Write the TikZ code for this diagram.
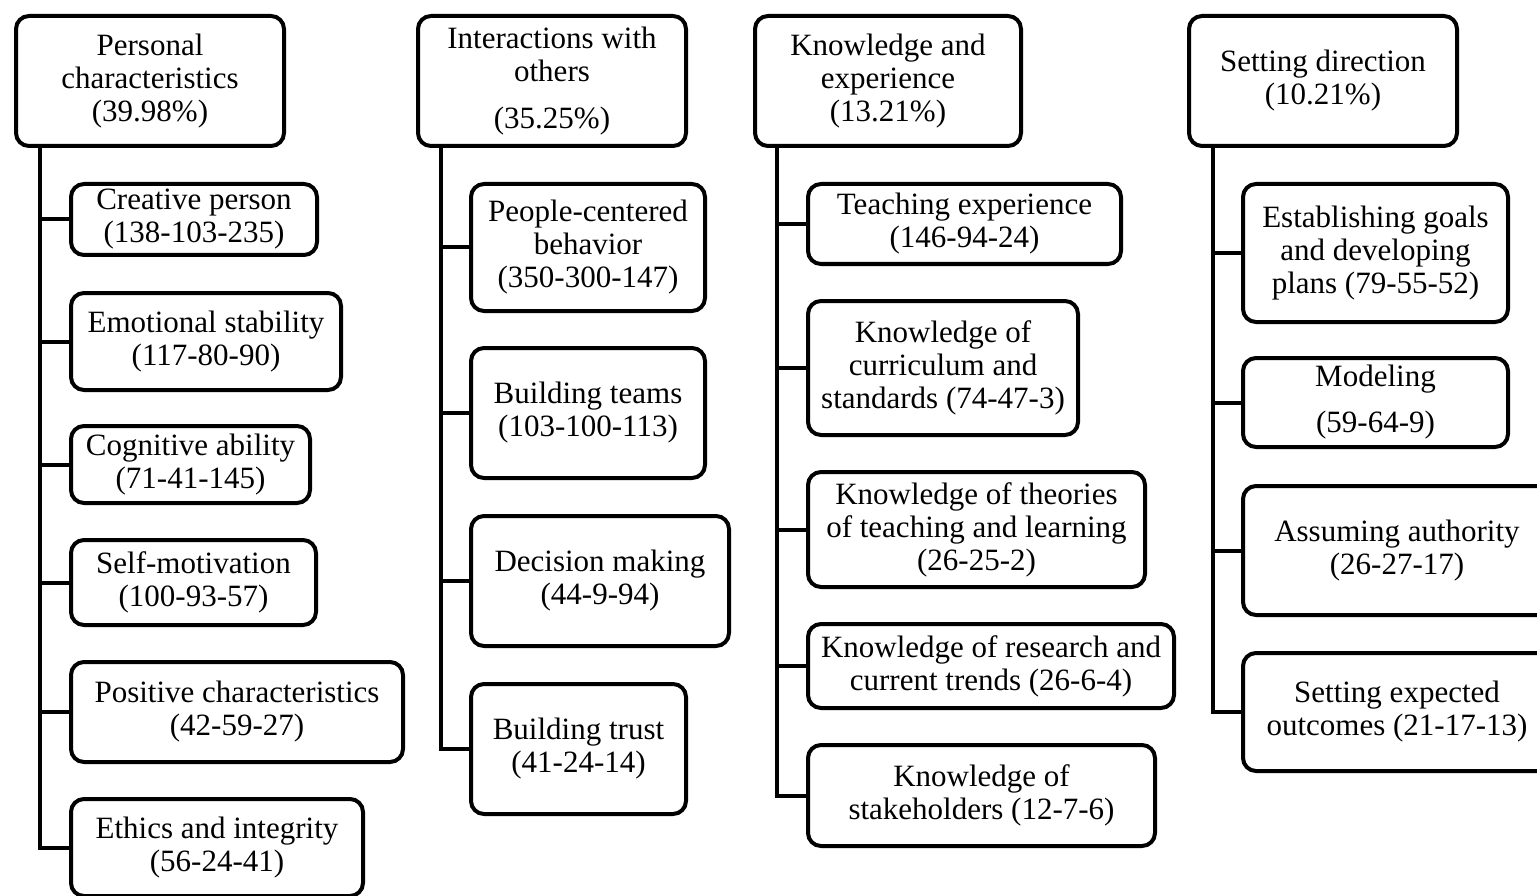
\documentclass[tikz,border=0pt]{standalone}
\usepackage{fontspec}
\setmainfont{Liberation Serif}
\begin{document}
\begin{tikzpicture}[x=1pt,y=-1pt,
  bx/.style={draw=black, line width=4pt, rounded corners=13pt, align=center,
    inner sep=0pt, anchor=north west, font=\fontsize{31}{33}\selectfont},
  conn/.style={draw=black, line width=4pt}]
\useasboundingbox (0,0) rectangle (1537,896);
\clip (0,0) rectangle (1537,896);
\fill[white] (0,0) rectangle (1537,896);
% column 1
\node[bx, minimum width=268pt, minimum height=130pt] (h1) at (14,14) {Personal\\characteristics\\(39.98\%)};
\node[bx, minimum width=246pt, minimum height=71pt] (c1) at (69,182) {Creative person\\(138-103-235)};
\node[bx, minimum width=270pt, minimum height=97pt] (c2) at (69,291) {Emotional stability\\(117-80-90)};
\node[bx, minimum width=239pt, minimum height=77pt] (c3) at (69,424) {Cognitive ability\\(71-41-145)};
\node[bx, minimum width=245pt, minimum height=85pt] (c4) at (69,538) {Self-motivation\\(100-93-57)};
\node[bx, minimum width=332pt, minimum height=100pt] (c5) at (69,660) {Positive characteristics\\(42-59-27)};
\node[bx, minimum width=292pt, minimum height=97pt] (c6) at (69,797) {Ethics and integrity\\(56-24-41)};
\coordinate (t1) at (40,0);
\draw[conn] (h1.south -| t1) |- (c6.west);
\foreach \n in {c1,c2,c3,c4,c5} \draw[conn] (\n.west -| t1) -- (\n.west);
% column 2
\node[bx, minimum width=268pt, minimum height=130pt] (h2) at (416,14) {Interactions with\\others\\[14pt](35.25\%)};
\node[bx, minimum width=234pt, minimum height=127pt] (d1) at (469,182) {People-centered\\behavior\\(350-300-147)};
\node[bx, minimum width=234pt, minimum height=130pt] (d2) at (469,346) {Building teams\\(103-100-113)};
\node[bx, minimum width=258pt, minimum height=130pt] (d3) at (469,514) {Decision making\\(44-9-94)};
\node[bx, minimum width=215pt, minimum height=130pt] (d4) at (469,682) {Building trust\\(41-24-14)};
\coordinate (t2) at (441,0);
\draw[conn] (h2.south -| t2) |- (d4.west);
\foreach \n in {d1,d2,d3} \draw[conn] (\n.west -| t2) -- (\n.west);
% column 3
\node[bx, minimum width=266pt, minimum height=130pt] (h3) at (753,14) {Knowledge and\\experience\\(13.21\%)};
\node[bx, minimum width=313pt, minimum height=80pt] (k1) at (806,182) {Teaching experience\\(146-94-24)};
\node[bx, minimum width=270pt, minimum height=134pt] (k2) at (806,299) {Knowledge of\\curriculum and\\standards (74-47-3)};
\node[bx, minimum width=337pt, minimum height=115pt] (k3) at (806,470) {Knowledge of theories\\of teaching and learning\\(26-25-2)};
\node[bx, minimum width=366pt, minimum height=84pt] (k4) at (806,622) {Knowledge of research and\\current trends (26-6-4)};
\node[bx, minimum width=347pt, minimum height=101pt] (k5) at (806,743) {Knowledge of\\stakeholders (12-7-6)};
\coordinate (t3) at (777,0);
\draw[conn] (h3.south -| t3) |- (k5.west);
\foreach \n in {k1,k2,k3,k4} \draw[conn] (\n.west -| t3) -- (\n.west);
% column 4
\node[bx, minimum width=268pt, minimum height=130pt] (h4) at (1187,14) {Setting direction\\(10.21\%)};
\node[bx, minimum width=265pt, minimum height=138pt] (s1) at (1241,182) {Establishing goals\\and developing\\plans (79-55-52)};
\node[bx, minimum width=265pt, minimum height=89pt] (s2) at (1241,356) {Modeling\\[13pt](59-64-9)};
\node[bx, minimum width=308pt, minimum height=129pt] (s3) at (1241,484) {Assuming authority\\(26-27-17)};
\node[bx, minimum width=308pt, minimum height=118pt] (s4) at (1241,651) {Setting expected\\outcomes (21-17-13)};
\coordinate (t4) at (1213,0);
\draw[conn] (h4.south -| t4) |- (s4.west);
\foreach \n in {s1,s2,s3} \draw[conn] (\n.west -| t4) -- (\n.west);
\end{tikzpicture}
\end{document}
